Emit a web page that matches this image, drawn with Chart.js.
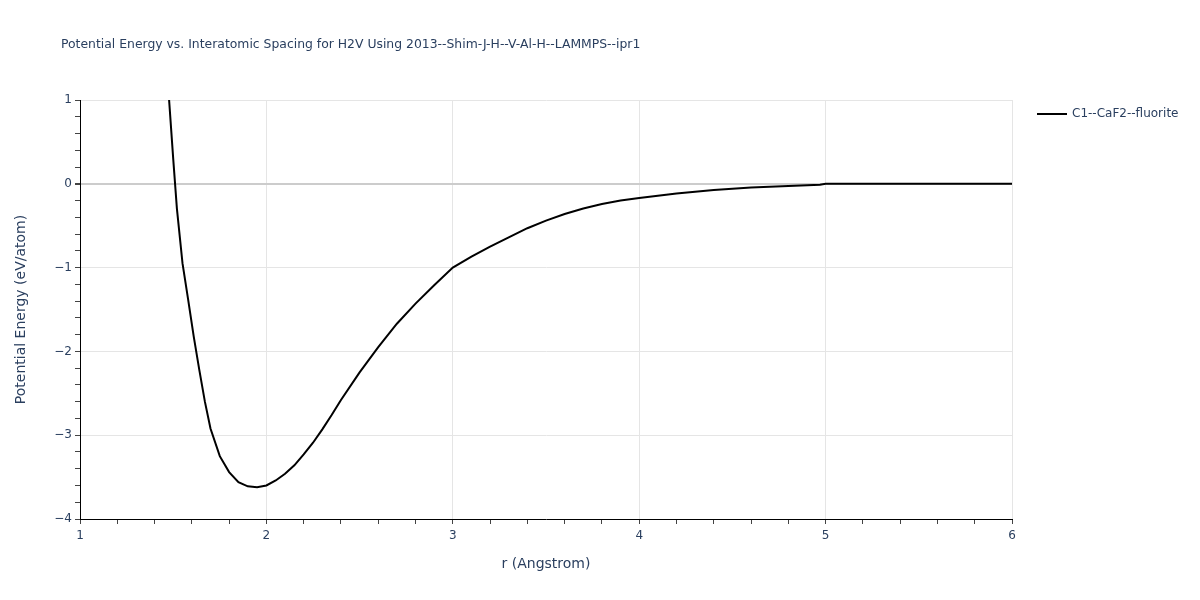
<!DOCTYPE html>
<html>
<head>
<meta charset="utf-8">
<script src="https://cdn.jsdelivr.net/npm/chart.js@4"></script>
<style>
  html, body { margin: 0; padding: 0; background: #fff; }
  #wrap { width: 1200px; height: 600px; position: relative; }
</style>
</head>
<body>
<div id="wrap"><canvas id="grafico"></canvas></div>
<script>
// Datos
const tituloGrafico = 'Potential Energy vs. Interatomic Spacing for H2V Using 2013--Shim-J-H--V-Al-H--LAMMPS--ipr1';
const nombreSerie = 'C1--CaF2--fluorite';
const distancias = [1.478, 1.50, 1.52, 1.55, 1.58, 1.61, 1.64, 1.67, 1.70, 1.75, 1.80, 1.85, 1.90, 1.95, 2.0, 2.05, 2.1, 2.15, 2.2, 2.25, 2.3, 2.35, 2.4, 2.5, 2.6, 2.7, 2.8, 2.9, 3.0, 3.1, 3.2, 3.3, 3.4, 3.5, 3.6, 3.7, 3.8, 3.9, 4.0, 4.2, 4.4, 4.6, 4.8, 4.97, 5.0, 5.5, 6.0];
const energias = [1.0, 0.3, -0.3, -0.95, -1.38, -1.82, -2.22, -2.6, -2.92, -3.25, -3.44, -3.56, -3.61, -3.62, -3.60, -3.54, -3.46, -3.36, -3.23, -3.09, -2.93, -2.76, -2.58, -2.25, -1.95, -1.67, -1.43, -1.21, -1.0, -0.87, -0.75, -0.64, -0.53, -0.44, -0.36, -0.295, -0.24, -0.2, -0.17, -0.115, -0.075, -0.045, -0.027, -0.012, 0, 0, 0];
const ticksX = [1, 2, 3, 4, 5, 6];
const ticksY = [-4, -3, -2, -1, 0, 1];

const colorTexto = '#2a3f5f';
const fuente = '"DejaVu Sans", Verdana, sans-serif';

function esEntero(v) {
    return Math.abs(v - Math.round(v)) < 1e-6;
}

// Título y leyenda dibujados a mano (estilo plotly)
const extras = {
    id: 'extras',
    afterDraw(chart) {
        const c = chart.ctx;
        c.save();
        c.fillStyle = colorTexto;
        c.font = '12.4px ' + fuente;
        c.textBaseline = 'middle';
        c.fillText(tituloGrafico, 61, 45);
        c.strokeStyle = '#000';
        c.lineWidth = 2;
        c.beginPath();
        c.moveTo(1037, 114);
        c.lineTo(1067, 114);
        c.stroke();
        c.font = '12px ' + fuente;
        c.fillText(nombreSerie, 1072, 114);
        c.restore();
    }
};

const puntos = distancias.map((r, i) => ({ x: r, y: energias[i] }));

new Chart(document.getElementById('grafico'), {
    type: 'line',
    data: {
        datasets: [{
            label: nombreSerie,
            data: puntos,
            borderColor: '#000',
            backgroundColor: '#000',
            borderWidth: 2,
            pointRadius: 0,
            tension: 0,
            fill: false
        }]
    },
    options: {
        responsive: true,
        maintainAspectRatio: false,
        animation: false,
        layout: { padding: { top: 100, right: 188, left: 0, bottom: 0 } },
        plugins: {
            legend: { display: false },
            tooltip: { enabled: false }
        },
        scales: {
            x: {
                type: 'linear',
                min: 1,
                max: 6,
                afterFit: function(s) { s.height = 81; },
                afterBuildTicks: function(s) {
                    const t = [];
                    for (let i = 0; i <= 25; i++) t.push({ value: Math.round((1 + i * 0.2) * 10) / 10 });
                    s.ticks = t;
                },
                ticks: {
                    autoSkip: false,
                    maxRotation: 0,
                    color: colorTexto,
                    font: { family: fuente, size: 12 },
                    padding: 5,
                    callback: function(v) {
                        return esEntero(v) && ticksX.includes(Math.round(v)) ? String(Math.round(v)) : '';
                    }
                },
                grid: {
                    color: function(ctx) {
                        const v = ctx.tick ? ctx.tick.value : 0;
                        return esEntero(v) ? '#e5e5e5' : 'rgba(0,0,0,0)';
                    },
                    tickColor: '#444',
                    tickLength: 5,
                    lineWidth: 1
                },
                border: { color: '#000', width: 1 },
                title: {
                    display: true,
                    text: 'r (Angstrom)',
                    color: colorTexto,
                    font: { family: fuente, size: 14 },
                    padding: { top: 4, bottom: 27 }
                }
            },
            y: {
                type: 'linear',
                min: -4,
                max: 1,
                afterFit: function(s) { s.width = 80; },
                afterBuildTicks: function(s) {
                    const t = [];
                    for (let i = 0; i <= 25; i++) t.push({ value: Math.round((-4 + i * 0.2) * 10) / 10 });
                    s.ticks = t;
                },
                ticks: {
                    autoSkip: false,
                    color: colorTexto,
                    font: { family: fuente, size: 12 },
                    padding: 3,
                    callback: function(v) {
                        if (!esEntero(v) || !ticksY.includes(Math.round(v))) return '';
                        const n = Math.round(v);
                        return n < 0 ? '\u2212' + Math.abs(n) : String(n);
                    }
                },
                grid: {
                    color: function(ctx) {
                        const v = ctx.tick ? ctx.tick.value : 1;
                        if (Math.abs(v) < 1e-6) return '#cccccc';
                        return esEntero(v) ? '#e5e5e5' : 'rgba(0,0,0,0)';
                    },
                    lineWidth: function(ctx) {
                        const v = ctx.tick ? ctx.tick.value : 1;
                        return Math.abs(v) < 1e-6 ? 2 : 1;
                    },
                    tickColor: '#444',
                    tickLength: 5
                },
                border: { color: '#000', width: 1 },
                title: {
                    display: true,
                    text: 'Potential Energy (eV/atom)',
                    color: colorTexto,
                    font: { family: fuente, size: 14 },
                    padding: { top: 13, bottom: 4 }
                }
            }
        }
    },
    plugins: [extras]
});
</script>
</body>
</html>
